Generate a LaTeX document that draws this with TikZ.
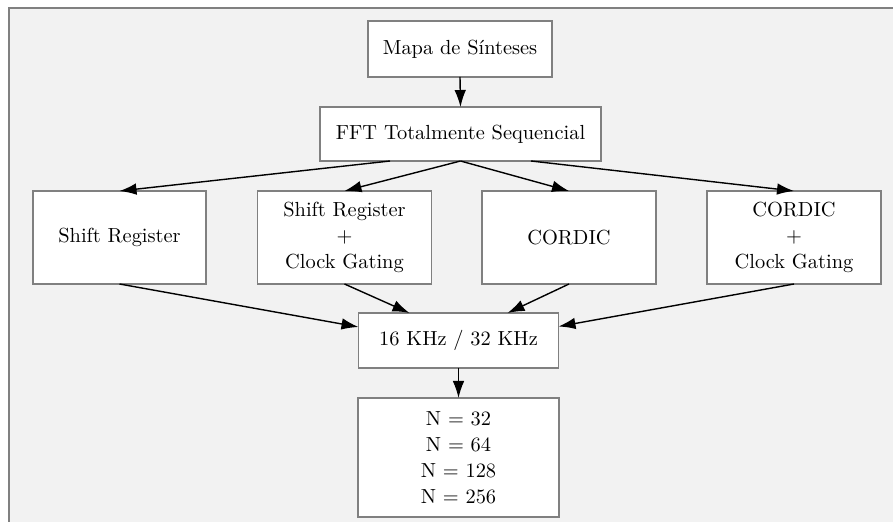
\documentclass[tikz,border=0pt]{standalone}
\usetikzlibrary{calc,arrows.meta}
\begin{document}
\begin{tikzpicture}[x=0.5pt,y=-0.5pt,
  box/.style={draw=black!50,line width=0.65pt,fill=white,inner sep=0pt,outer sep=0pt,align=center,font=\fontsize{10.2}{13}\selectfont},
  edge/.style={draw=black,line width=0.7pt,-{Latex[length=8.5pt,width=5.8pt]}}]
\useasboundingbox (0,0) rectangle (893,522);
\fill[white] (0,0) rectangle (893,522);
\fill[black!5] (9,8) rectangle (893,522);
\draw[black!50,line width=0.8pt] (893,8) -- (9,8) -- (9,522);

\node[box,minimum width=92pt,minimum height=28pt] (mapa) at (460,49) {Mapa de Sínteses};
\node[box,minimum width=140.5pt,minimum height=27pt] (fft) at (460.5,134) {FFT Totalmente Sequencial};
\node[box,minimum width=86.5pt,minimum height=46.5pt] (sr) at (119.5,237.5) {Shift Register};
\node[box,minimum width=87pt,minimum height=46.5pt] (srcg) at (344.5,237.5) {Shift Register\\+\\Clock Gating};
\node[box,minimum width=87pt,minimum height=46.5pt] (cordic) at (569,237.5) {CORDIC};
\node[box,minimum width=87pt,minimum height=46.5pt] (cordiccg) at (794,237.5) {CORDIC\\+\\Clock Gating};
\node[box,minimum width=100pt,minimum height=27.5pt] (khz) at (458.5,340.5) {16 KHz / 32 KHz};
\node[box,minimum width=100.5pt,minimum height=59.5pt] (nbox) at (458.5,457.5) {N = 32\\N = 64\\N = 128\\N = 256};

\draw[edge] (mapa.south) -- (fft.north);
\draw[edge] ($(fft.south)+(-70.5,0)$) -- (sr.north);
\draw[edge] (fft.south) -- (srcg.north);
\draw[edge] (fft.south) -- (cordic.north);
\draw[edge] ($(fft.south)+(70.5,0)$) -- (cordiccg.north);
\draw[edge] (sr.south) -- ($(khz.west)+(0,-13.5)$);
\draw[edge] (srcg.south) -- ($(khz.north)+(-49,0)$);
\draw[edge] (cordic.south) -- ($(khz.north)+(49,0)$);
\draw[edge] (cordiccg.south) -- ($(khz.east)+(0,-14)$);
\draw[edge] (khz.south) -- (nbox.north);
\end{tikzpicture}
\end{document}
